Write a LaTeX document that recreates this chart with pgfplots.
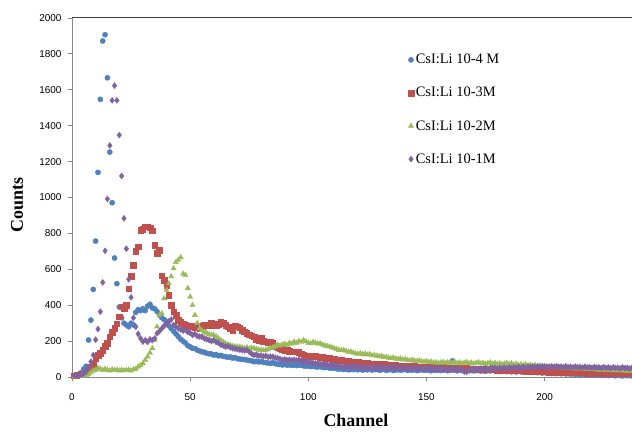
\documentclass[border=0pt]{standalone}
\usepackage{fontspec}
\setmainfont{Liberation Serif}
\newfontfamily\arial{Liberation Sans}
\usepackage{pgfplots}
\usepackage{pgfplotstable}
\pgfplotsset{compat=1.18}
\definecolor{xblue}{HTML}{4F81BD}
\definecolor{xred}{HTML}{C0504D}
\definecolor{xgreen}{HTML}{9BBB59}
\definecolor{xpurple}{HTML}{8064A2}
\definecolor{xaxis}{HTML}{868686}

% channel, then counts for 10-4 M, 10-3 M, 10-2 M, 10-1 M
\pgfplotstableread{
ch B R G P
1 8 8 2 6
2 10 10 3 8
3 15 12 5 10
4 25 15 5 12
5 45 18 8 20
6 60 25 10 30
7 206 40 15 55
8 317 55 25 85
9 488 67 35 122
10 757 104 40 208
11 1140 120 50 267
12 1547 134 45 364
13 1872 150 38 527
14 1907 170 45 703
15 1667 187 40 992
16 1253 224 35 1290
17 971 250 42 1541
18 663 271 38 1623
19 520 298 40 1541
20 390 336 35 1348
21 330 392 40 1120
22 300 380 36 884
23 290 400 38 715
24 280 493 40 544
25 300 560 35 444
26 290 624 42 330
27 360 702 45 280
28 375 726 57 240
29 370 819 65 215
30 380 825 76 197
31 370 837 95 205
32 395 838 113 195
33 405 832 135 210
34 385 815 160 205
35 380 735 206 215
36 365 690 280 243
37 345 707 345 255
38 330 564 355 270
39 320 540 438 285
40 310 512 485 299
41 285 457 521 310
42 270 401 560 320
43 255 364 605 290
44 240 345 640 280
45 225 318 652 271
46 210 305 666 265
47 200 298 575 258
48 190 290 568 262
49 175 285 494 250
50 168 280 447 245
51 160 282 400 234
52 158 275 345 240
53 150 285 300 228
54 145 270 271 225
55 140 280 260 224
56 138 290 250 215
57 132 285 245 210
58 130 290 238 206
59 128 300 235 200
60 122 298 234 205
61 125 285 225 195
62 118 295 215 190
63 120 308 205 180
64 115 300 195 175
65 113 290 187 169
66 110 280 180 172
67 112 270 178 165
68 105 262 172 160
69 108 285 170 158
70 102 280 169 155
71 100 275 168 152
72 98 260 165 150
73 97 252 160 148
74 95 245 165 150
75 92 235 158 140
76 90 230 162 130
77 85 224 160 122
78 88 210 155 125
79 84 206 152 118
80 86 215 150 120
81 82 200 148 115
82 80 197 150 118
83 78 190 155 112
84 76 195 160 113
85 80 187 165 113
86 74 170 170 108
87 72 165 178 105
88 70 160 175 100
89 67 155 180 95
90 70 150 185 98
91 66 148 178 94
92 68 145 190 96
93 65 142 185 93
94 67 140 197 95
95 64 141 190 92
96 67 138 200 95
97 66 130 195 90
98 62 120 205 85
99 60 115 198 88
100 62 113 190 82
101 58 118 187 80
102 60 112 195 78
103 57 115 190 76
104 56 113 185 75
105 58 108 187 73
106 54 112 180 72
107 52 106 175 70
108 55 104 172 68
109 50 105 169 67
110 48 100 165 67
111 50 98 160 65
112 46 95 155 63
113 44 97 150 60
114 45 92 148 58
115 42 90 150 57
116 44 88 145 57
117 40 90 140 57
118 42 85 141 55
119 41 84 135 58
120 43 80 131 54
121 40 82 128 57
122 44 78 132 52
123 38 80 126 56
124 42 76 130 53
125 40 78 124 50
126 45 74 127 55
127 39 72 120 51
128 41 75 122 54
129 43 70 118 49
130 38 72 115 53
131 40 68 118 50
132 44 70 110 55
133 37 66 112 48
134 40 68 106 52
135 42 65 104 49
136 36 63 108 54
137 39 66 102 47
138 41 62 100 51
139 38 60 103 48
140 40 63 97 53
141 43 60 99 46
142 37 58 95 50
143 40 61 92 47
144 38 57 96 52
145 42 59 90 45
146 36 56 88 49
147 39 58 92 46
148 41 55 86 51
149 37 57 85 44
150 40 54 88 48
151 38 56 82 45
152 35 53 85 50
153 40 55 80 43
154 37 52 83 47
155 39 54 78 44
156 36 51 80 49
157 38 53 84 42
158 40 50 78 46
159 35 52 82 40
160 37 49 76 45
161 90 51 80 42
162 38 48 85 47
163 35 50 77 38
164 40 47 81 44
165 36 49 75 40
166 33 46 79 30
167 38 48 83 28
168 35 45 76 38
169 37 47 80 44
170 34 44 74 40
171 36 46 78 45
172 38 43 82 41
173 33 45 75 46
174 35 42 79 42
175 32 44 73 48
176 36 41 77 43
177 34 43 81 49
178 70 40 74 45
179 35 42 78 50
180 33 39 72 46
181 30 41 76 51
182 34 38 70 47
183 32 40 74 52
184 30 37 78 48
185 33 39 71 53
186 29 36 75 49
187 31 38 69 54
188 28 35 73 50
189 32 37 67 55
190 29 34 71 51
191 27 36 66 56
192 30 33 70 52
193 26 35 64 57
194 28 32 68 53
195 25 34 62 58
196 27 31 66 54
197 24 33 60 59
198 26 30 64 55
199 22 32 58 60
200 25 29 62 56
201 21 31 57 58
202 23 28 60 54
203 20 30 55 59
204 22 27 58 55
205 19 29 53 60
206 21 26 57 56
207 18 28 52 58
208 20 25 55 54
209 17 27 50 59
210 19 24 54 55
211 16 26 49 57
212 18 23 52 53
213 15 25 47 58
214 17 24 51 54
215 14 26 46 56
216 16 23 49 52
217 13 25 44 57
218 15 22 48 53
219 12 24 43 55
220 14 23 46 51
221 11 25 42 56
222 13 22 45 52
223 10 24 40 54
224 12 21 44 50
225 9 23 39 55
226 11 20 42 51
227 8 22 38 53
228 10 19 41 49
229 9 21 37 54
230 7 20 40 50
231 10 22 36 52
232 8 19 39 48
233 6 21 35 53
234 9 18 38 49
235 7 20 34 51
236 8 19 37 47
237 6 21 33 52
}\spectra

\begin{document}
\begin{tikzpicture}
\useasboundingbox (-72bp,-55bp) rectangle (560bp,377bp);
\begin{axis}[
  scale only axis, width=560bp, height=359bp,
  xmin=0, xmax=237, ymin=0, ymax=2000,
  xtick={0,50,...,200}, ytick={0,200,...,2000},
  axis lines=left, axis line style={-,draw=xaxis,line width=0.8bp},
  tick align=outside, major tick length=4bp,
  tick style={draw=xaxis,line width=0.8bp},
  tick label style={font=\arial\fontsize{10}{12}\selectfont},
  xticklabel style={yshift=-9bp},
  yticklabel style={xshift=-3bp},
  /pgf/number format/assume math mode=true,
  /pgf/number format/1000 sep={},
  clip=false,
  xlabel={\bfseries Channel}, ylabel={\bfseries Counts},
  label style={font=\fontsize{18}{20}\selectfont},
  xlabel style={at={(axis description cs:0.507,-0.122)},anchor=center},
  ylabel style={at={(axis description cs:-0.098,0.48)},anchor=center},
  legend style={draw=none,fill=none,at={(axis description cs:0.6,0.905)},anchor=north west,
    font=\fontsize{14.5}{16}\selectfont,row sep=18bp,inner sep=0pt},
  legend cell align=left,
  legend image code/.code={\draw[#1] plot coordinates {(0.15cm,0cm)};},
]
\addplot[only marks,mark=*,mark size=2.6bp,color=xblue] table[x=ch,y=B] {\spectra};
\addplot[only marks,mark=square*,mark size=2.8bp,color=xred] table[x=ch,y=R] {\spectra};
\addplot[only marks,mark=triangle*,mark size=3bp,color=xgreen] table[x=ch,y=G] {\spectra};
\addplot[only marks,mark=diamond*,mark size=3bp,color=xpurple] table[x=ch,y=P] {\spectra};
\legend{CsI:Li 10-4 M,CsI:Li 10-3M,CsI:Li 10-2M,CsI:Li 10-1M}
\draw[black!75,line width=1bp] (rel axis cs:0,1) -- (rel axis cs:1,1);
\end{axis}
\end{tikzpicture}
\end{document}
